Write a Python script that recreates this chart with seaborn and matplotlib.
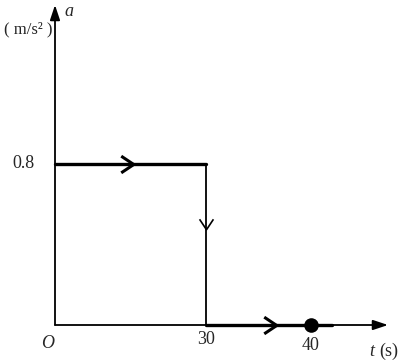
import numpy as np
import pandas as pd
import matplotlib
matplotlib.use("Agg")
import matplotlib.pyplot as plt
from matplotlib.path import Path
import seaborn as sns

# ---- data ----
phase_start = [0, 30]          # t (s)
phase_end = [30, 42]
accel = [0.8, 0.0]             # a (m/s^2)
dot_t = [40]
dot_a = [0.0]
x_ticks = [30, 40]
x_tick_labels = ["30", "40"]
y_ticks = [0.8]
y_tick_labels = ["0.8"]

sns.set_style("white")
plt.rcParams['font.family'] = ['Liberation Serif', 'DejaVu Serif']

fig = plt.figure(figsize=(4.0, 3.63), dpi=100)
ax = fig.add_axes([0, 0, 1, 1])


# piecewise scale to mimic schematic spacing
def fwd(t):
    t = np.asarray(t, dtype=float)
    return np.where(t <= 30, 55 + t * 151 / 30, 206 + (t - 30) * 10.5)


def inv(p):
    p = np.asarray(p, dtype=float)
    return np.where(p <= 206, (p - 55) * 30 / 151, 30 + (p - 206) / 10.5)


ax.set_xscale('function', functions=(fwd, inv))
ax.set_xlim(inv(0.0), inv(400.0))
ppu = 161 / 0.8
ax.set_ylim(-(363 - 325) / ppu, 325 / ppu)
ax.axis('off')

# horizontal segments (thick)
for s, e, a in zip(phase_start, phase_end, accel):
    df = pd.DataFrame({"t": [s, e], "a": [a, a]})
    sns.lineplot(data=df, x="t", y="a", ax=ax, color="black", lw=2.4,
                 sort=False, estimator=None)

# vertical drop at t=30 (thin)
df_v = pd.DataFrame({"t": [phase_end[0], phase_start[1]], "a": [accel[0], accel[1]]})
sns.lineplot(data=df_v, x="t", y="a", ax=ax, color="black", lw=1.3,
             sort=False, estimator=None)

# axes arrows
x_tip = inv(388.0)
y_tip = 320 / ppu
ax.annotate("", xy=(x_tip, 0), xytext=(0, 0),
            arrowprops=dict(arrowstyle="-|>,head_length=0.9,head_width=0.3",
                            color="black", lw=1.3, shrinkA=0, shrinkB=0))
ax.annotate("", xy=(0, y_tip), xytext=(0, 0),
            arrowprops=dict(arrowstyle="-|>,head_length=0.9,head_width=0.3",
                            color="black", lw=1.3, shrinkA=0, shrinkB=0))

# direction chevrons
right_chev = Path([(-0.45, 0.6), (0.45, 0.0), (-0.45, -0.6)],
                  [Path.MOVETO, Path.LINETO, Path.LINETO])
down_chev = Path([(-0.6, 0.45), (0.0, -0.45), (0.6, 0.45)],
                 [Path.MOVETO, Path.LINETO, Path.LINETO])
ax.plot([inv(127.0)], [accel[0]], marker=right_chev, ms=12, mew=2.2,
        mfc='none', mec='black', ls='none')
ax.plot([inv(270.0)], [accel[1]], marker=right_chev, ms=12, mew=2.2,
        mfc='none', mec='black', ls='none')
ax.plot([30], [(325 - 224) / ppu], marker=down_chev, ms=10, mew=1.2,
        mfc='none', mec='black', ls='none')

# dot
sns.scatterplot(x=dot_t, y=dot_a, ax=ax, color="black", s=110, zorder=5, linewidth=0)

# labels
fs = 13
for xt, lab in zip(x_ticks, x_tick_labels):
    yoff = 339 if xt == 30 else 346
    ax.text(xt, (325 - yoff) / ppu, lab, ha='center', va='center', fontsize=fs)
for yt, lab in zip(y_ticks, y_tick_labels):
    ax.text(inv(23.0), yt, lab, ha='center', va='center', fontsize=fs)
ax.text(inv(48.0), (325 - 344) / ppu, "O", ha='center', va='center',
        fontsize=fs, style='italic')
ax.text(inv(372.0), (325 - 351) / ppu, "t", ha='center', va='center',
        fontsize=fs, style='italic')
ax.text(inv(389.0), (325 - 351) / ppu, "(s)", ha='center', va='center', fontsize=fs)
ax.text(inv(69.0), (325 - 11) / ppu, "a", ha='center', va='center',
        fontsize=fs, style='italic')
ax.text(inv(52.0), (325 - 29) / ppu, "( m/s² )", ha='right', va='center',
        fontsize=12)

fig.savefig("out.png", dpi=100)
